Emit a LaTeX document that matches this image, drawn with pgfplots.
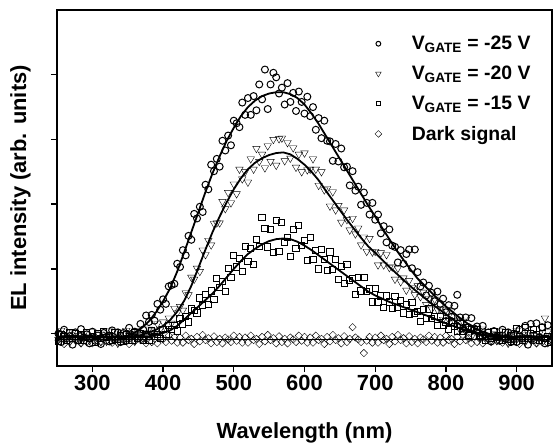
\documentclass[border=0pt]{standalone}
\usepackage{pgfplots}
\pgfplotsset{compat=1.18}
\usepackage{fontspec}
\setmainfont{Liberation Sans}

\newcommand{\bigfont}{\fontsize{22}{26}\selectfont\bfseries}
\newcommand{\legfont}{\fontsize{19.5}{23}\selectfont\bfseries}

\begin{document}
\begin{tikzpicture}
\useasboundingbox (-57bp,-78bp) rectangle (496bp,366bp);
\begin{axis}[
  at={(0,0)}, anchor=south west,
  scale only axis, width=495bp, height=356bp,
  xmin=250, xmax=950, ymin=-0.5, ymax=5,
  xtick={300,400,500,600,700,800,900},
  ytick={0,1,2,3,4}, yticklabels={},
  tick align=outside, xtick pos=bottom, ytick pos=left,
  major tick length=6bp,
  axis line style={line width=1.6bp},
  every tick/.style={black, line width=1.4bp},
  /pgf/number format/assume math mode=true,
  xticklabel style={font=\bigfont, inner sep=0pt, anchor=north, yshift=-3bp},
  xlabel={Wavelength (nm)},
  ylabel={EL intensity (arb. units)},
  xlabel style={font=\bigfont, inner sep=0pt, at={(axis description cs:0.5,-0.1587)}, anchor=north},
  ylabel style={font=\bigfont, inner sep=0pt, at={(axis description cs:-0.0949,0.5)}, anchor=north},
  legend style={draw=none, fill=none, inner sep=0pt, font=\legfont,
    at={(axis description cs:0.642,0.927)}, anchor=north west,
    column sep=30bp, row sep=15bp, nodes={inner sep=0pt}},
  legend cell align=left,
  legend image code/.code={\draw[#1] plot coordinates {(0bp,0bp)};},
  scat/.style={only marks, black, mark options={line width=1bp, black, fill=none}},
  fit/.style={black, line width=1.8bp, forget plot},
]

% V_GATE = -25 V
\addplot[scat, mark=o, mark size=3.5bp, legend image post style={mark size=2.4bp}] coordinates {
(252,0.00)(256,-0.13)(260,0.06)(264,-0.07)(268,-0.04)(272,-0.17)(276,0.02)(280,-0.10)
(284,0.07)(288,-0.06)(292,-0.01)(296,-0.15)(300,0.03)(304,-0.11)(308,-0.03)(312,-0.16)
(316,0.01)(320,-0.05)(324,-0.12)(328,0.05)(332,-0.09)(336,0.02)(340,-0.13)(344,0.01)
(348,-0.11)(352,0.09)(356,-0.02)(360,0.03)(364,-0.07)(368,0.15)(372,0.06)(376,0.28)
(380,0.18)(384,0.29)(388,0.20)(392,0.46)(396,0.37)(400,0.53)(404,0.46)(408,0.73)
(412,0.75)(416,0.77)(420,1.08)(424,1.03)(428,1.29)(432,1.21)(436,1.51)(440,1.45)
(444,1.85)(448,1.78)(452,1.96)(456,1.88)(460,2.30)(464,2.23)(468,2.61)(472,2.51)
(476,2.70)(480,2.58)(484,2.98)(488,2.83)(492,3.06)(496,2.91)(500,3.29)(504,3.25)
(508,3.19)(512,3.57)(516,3.38)(520,3.64)(524,3.38)(528,3.67)(532,3.45)(536,3.85)
(540,3.62)(544,4.08)(548,3.47)(552,3.85)(556,4.03)(560,3.96)(564,3.71)(568,3.80)
(572,3.54)(576,3.87)(580,3.58)(584,3.72)(588,3.44)(592,3.74)(596,3.58)(600,3.40)
(604,3.66)(608,3.36)(612,3.50)(616,3.15)(620,3.33)(624,3.02)(628,3.29)(632,2.98)
(636,2.97)(640,2.67)(644,2.93)(648,2.66)(652,2.86)(656,2.57)(660,2.58)(664,2.29)
(668,2.51)(672,2.21)(676,2.27)(680,1.99)(684,2.18)(688,2.02)(692,1.84)(696,2.02)
(700,1.76)(704,1.84)(708,1.55)(712,1.66)(716,1.41)(720,1.61)(724,1.36)(728,1.34)
(732,1.10)(736,1.29)(740,1.08)(744,1.23)(748,1.30)(752,1.01)(756,1.30)(760,0.95)
(764,0.73)(768,0.79)(772,0.59)(776,0.74)(780,0.63)(784,0.50)(788,0.65)(792,0.46)
(796,0.54)(800,0.33)(804,0.44)(808,0.26)(812,0.43)(816,0.60)(820,0.25)(824,0.08)
(828,0.25)(832,0.10)(836,0.24)(840,0.08)(844,0.11)(848,-0.05)(852,0.12)(856,-0.04)
(860,0.02)(864,-0.12)(868,0.04)(872,-0.03)(876,-0.11)(880,0.06)(884,-0.08)(888,0.02)
(892,-0.13)(896,0.00)(900,-0.13)(904,0.06)(908,-0.07)(912,0.12)(916,-0.17)(920,0.15)
(924,-0.10)(928,0.16)(932,-0.06)(936,0.10)(940,-0.15)(944,0.13)(948,-0.11)
};
\addlegendentry{V\textsubscript{GATE} = -25 V}

% V_GATE = -20 V
\addplot[scat, mark=triangle, mark size=4.3bp, mark options={rotate=180}, legend image post style={mark size=3.2bp}] coordinates {
(252,-0.09)(256,0.05)(260,-0.06)(264,-0.02)(268,-0.13)(272,0.02)(276,-0.10)(280,-0.03)
(284,-0.14)(288,0.00)(292,-0.05)(296,-0.11)(300,0.03)(304,-0.08)(308,0.01)(312,-0.12)
(316,-0.01)(320,-0.12)(324,0.04)(328,-0.07)(332,-0.04)(336,-0.15)(340,0.01)(344,-0.09)
(348,0.05)(352,-0.06)(356,-0.01)(360,-0.12)(364,0.04)(368,-0.07)(372,0.01)(376,-0.09)
(380,0.07)(384,0.04)(388,-0.01)(392,0.15)(396,0.07)(400,0.18)(404,0.08)(408,0.24)
(412,0.16)(416,0.39)(420,0.32)(424,0.42)(428,0.36)(432,0.63)(436,0.60)(440,0.87)
(444,0.84)(448,1.01)(452,0.96)(456,1.29)(460,1.22)(464,1.44)(468,1.37)(472,1.70)
(476,1.71)(480,1.71)(484,2.04)(488,1.93)(492,2.18)(496,2.02)(500,2.31)(504,2.16)
(508,2.54)(512,2.39)(516,2.50)(520,2.34)(524,2.70)(528,2.54)(532,2.86)(536,2.66)
(540,2.77)(544,2.56)(548,2.90)(552,2.66)(556,3.00)(560,2.60)(564,3.01)(568,3.02)
(572,2.67)(576,2.95)(580,2.71)(584,2.87)(588,2.57)(592,2.77)(596,2.50)(600,2.79)
(604,2.53)(608,2.54)(612,2.70)(616,2.54)(620,2.29)(624,2.50)(628,2.22)(632,2.24)
(636,1.97)(640,2.19)(644,1.91)(648,1.98)(652,1.72)(656,1.91)(660,1.76)(664,1.60)
(668,1.78)(672,1.54)(676,1.63)(680,1.37)(684,1.49)(688,1.27)(692,1.47)(696,1.26)
(700,1.27)(704,1.06)(708,1.25)(712,1.06)(716,1.22)(720,1.02)(724,1.03)(728,0.84)
(732,1.01)(736,0.80)(740,0.86)(744,0.67)(748,0.82)(752,0.71)(756,0.60)(760,0.74)
(764,0.57)(768,0.64)(772,0.45)(776,0.54)(780,0.38)(784,0.53)(788,0.37)(792,0.38)
(796,0.22)(800,0.37)(804,0.22)(808,0.35)(812,0.19)(816,0.20)(820,0.06)(824,0.19)
(828,0.03)(832,0.08)(836,-0.05)(840,0.07)(844,0.01)(848,-0.06)(852,0.07)(856,-0.05)
(860,0.03)(864,-0.10)(868,0.00)(872,-0.11)(876,0.04)(880,-0.07)(884,-0.04)(888,-0.15)
(892,0.01)(896,-0.09)(900,0.05)(904,-0.06)(908,-0.02)(912,-0.13)(916,0.02)(920,-0.10)
(924,-0.03)(928,-0.14)(932,0.00)(936,-0.05)(940,0.24)(944,0.03)(948,-0.08)
};
\addlegendentry{V\textsubscript{GATE} = -20 V}

% V_GATE = -15 V
\addplot[scat, mark=square, mark size=3.1bp, legend image post style={mark size=2.2bp}] coordinates {
(252,-0.12)(256,-0.01)(260,-0.05)(264,-0.10)(268,0.01)(272,-0.07)(276,0.00)(280,-0.11)
(284,-0.02)(288,-0.11)(292,0.02)(296,-0.07)(300,-0.04)(304,-0.13)(308,0.00)(312,-0.08)
(316,0.03)(320,-0.06)(324,-0.03)(328,-0.11)(332,0.01)(336,-0.09)(340,-0.03)(344,-0.12)
(348,-0.01)(352,-0.05)(356,-0.10)(360,0.01)(364,-0.07)(368,0.00)(372,-0.10)(376,-0.01)
(380,-0.10)(384,0.04)(388,-0.04)(392,-0.01)(396,-0.08)(400,0.06)(404,-0.01)(408,0.13)
(412,0.06)(416,0.12)(420,0.04)(424,0.23)(428,0.15)(432,0.26)(436,0.18)(440,0.38)
(444,0.36)(448,0.32)(452,0.55)(456,0.44)(460,0.61)(464,0.45)(468,0.66)(472,0.53)
(476,0.85)(480,0.71)(484,0.81)(488,0.65)(492,1.01)(496,0.87)(500,1.21)(504,1.03)
(508,1.16)(512,0.96)(516,1.35)(520,1.11)(524,1.31)(528,1.07)(532,1.45)(536,1.35)
(540,1.80)(544,1.63)(548,1.34)(552,1.61)(556,1.25)(560,1.75)(564,1.27)(568,1.72)
(572,1.41)(576,1.49)(580,1.19)(584,1.61)(588,1.32)(592,1.67)(596,1.36)(600,1.44)
(604,1.13)(608,1.48)(612,1.15)(616,1.29)(620,1.00)(624,1.30)(628,1.15)(632,0.98)
(636,1.26)(640,0.99)(644,1.15)(648,0.84)(652,1.04)(656,0.78)(660,1.07)(664,0.82)
(668,0.85)(672,0.61)(676,0.87)(680,0.66)(684,0.87)(688,0.65)(692,0.69)(696,0.49)
(700,0.70)(704,0.49)(708,0.58)(712,0.40)(716,0.58)(720,0.49)(724,0.39)(728,0.57)
(732,0.40)(736,0.51)(740,0.32)(744,0.45)(748,0.29)(752,0.48)(756,0.32)(760,0.34)
(764,0.19)(768,0.37)(772,0.24)(776,0.38)(780,0.24)(784,0.26)(788,0.12)(792,0.26)
(796,0.13)(800,0.18)(804,0.06)(808,0.18)(812,0.11)(816,0.04)(820,0.15)(824,0.04)
(828,0.10)(832,-0.03)(836,0.06)(840,-0.05)(844,0.07)(848,-0.03)(852,-0.02)(856,-0.11)
(860,0.01)(864,-0.08)(868,0.03)(872,-0.06)(876,-0.03)(880,-0.11)(884,0.01)(888,-0.09)
(892,-0.03)(896,-0.12)(900,0.08)(904,-0.05)(908,-0.10)(912,0.10)(916,-0.07)(920,0.00)
(924,0.06)(928,-0.02)(932,-0.11)(936,0.10)(940,-0.07)(944,-0.04)(948,-0.13)
};
\addlegendentry{V\textsubscript{GATE} = -15 V}

% dark signal
\addplot[scat, mark=square, mark size=2.6bp, mark options={rotate=45}, legend image post style={mark size=2.4bp}] coordinates {
(252,-0.10)(256,-0.08)(260,-0.16)(264,-0.05)(268,-0.12)(272,-0.02)(276,-0.10)(280,-0.07)
(284,-0.15)(288,-0.04)(292,-0.13)(296,-0.08)(300,-0.15)(304,-0.06)(308,-0.09)(312,-0.13)
(316,-0.03)(320,-0.11)(324,-0.05)(328,-0.14)(332,-0.06)(336,-0.14)(340,-0.03)
(344,-0.10)(348,-0.08)(352,-0.16)(356,-0.05)(360,-0.12)(364,-0.02)(368,-0.10)(372,-0.07)
(376,-0.15)(380,-0.04)(384,-0.13)(388,-0.08)(392,-0.15)(396,-0.06)(400,-0.09)(404,-0.13)
(408,-0.03)(412,-0.11)(416,-0.05)(420,-0.14)(424,-0.06)(428,-0.14)(432,-0.03)
(436,-0.10)(440,-0.08)(444,-0.16)(448,-0.05)(452,-0.12)(456,-0.02)(460,-0.10)(464,-0.07)
(468,-0.15)(472,-0.04)(476,-0.13)(480,-0.08)(484,-0.15)(488,-0.06)(492,-0.09)(496,-0.13)
(500,-0.03)(504,-0.11)(508,-0.05)(512,-0.14)(516,-0.06)(520,-0.14)(524,-0.03)
(528,-0.10)(532,-0.08)(536,-0.16)(540,-0.05)(544,-0.12)(548,-0.02)(552,-0.10)(556,-0.07)
(560,-0.15)(564,-0.04)(568,-0.13)(572,-0.08)(576,-0.15)(580,-0.06)(584,-0.09)(588,-0.13)
(592,-0.03)(596,-0.11)(600,-0.05)(604,-0.14)(608,-0.06)(612,-0.14)(616,-0.03)
(620,-0.10)(624,-0.08)(628,-0.16)(632,-0.05)(636,-0.12)(640,-0.02)(644,-0.10)(648,-0.07)
(652,-0.15)(656,-0.04)(660,-0.13)(664,-0.08)(668,0.10)(672,-0.06)(676,-0.09)(680,-0.13)
(684,-0.30)(688,-0.11)(692,-0.05)(696,-0.14)(700,-0.06)(704,-0.14)(708,-0.03)
(712,-0.10)(716,-0.08)(720,-0.16)(724,-0.05)(728,-0.12)(732,-0.02)(736,-0.10)(740,-0.07)
(744,-0.15)(748,-0.04)(752,-0.13)(756,-0.08)(760,-0.15)(764,-0.06)(768,-0.09)(772,-0.13)
(776,-0.03)(780,-0.11)(784,-0.05)(788,-0.14)(792,-0.06)(796,-0.14)(800,-0.03)
(804,-0.10)(808,-0.08)(812,-0.16)(816,-0.05)(820,-0.12)(824,-0.02)(828,-0.10)(832,-0.07)
(836,-0.15)(840,-0.04)(844,-0.13)(848,-0.08)(852,-0.15)(856,-0.06)(860,-0.09)(864,-0.13)
(868,-0.03)(872,-0.11)(876,-0.05)(880,-0.14)(884,-0.06)(888,-0.14)(892,-0.03)
(896,-0.10)(900,-0.08)(904,-0.16)(908,-0.05)(912,-0.12)(916,-0.02)(920,-0.10)(924,-0.07)
(928,-0.15)(932,-0.04)(936,-0.13)(940,-0.08)(944,-0.15)(948,-0.06)
};
\addlegendentry{Dark signal}

% fitted curves
\addplot[fit] coordinates {
(250,-0.05)(300,-0.05)(340,-0.05)(350,-0.03)(360,0.02)(370,0.09)(380,0.19)(390,0.33)
(400,0.50)(410,0.70)(420,0.96)(430,1.26)(440,1.57)(450,1.88)(460,2.19)(470,2.48)
(480,2.74)(490,2.98)(500,3.18)(510,3.36)(520,3.50)(530,3.60)(540,3.67)(550,3.71)
(560,3.73)(570,3.73)(580,3.70)(590,3.64)(600,3.54)(610,3.40)(620,3.24)(630,3.06)
(640,2.88)(650,2.70)(660,2.52)(670,2.34)(680,2.16)(690,1.98)(700,1.81)(710,1.63)
(720,1.46)(730,1.29)(740,1.14)(750,0.99)(760,0.85)(770,0.74)(780,0.63)(790,0.52)
(800,0.42)(810,0.33)(820,0.24)(830,0.16)(840,0.09)(850,0.04)(860,0.00)(870,-0.03)
(880,-0.04)(890,-0.05)(950,-0.05)
};
\addplot[fit] coordinates {
(250,-0.05)(300,-0.05)(350,-0.05)(360,-0.04)(370,-0.02)(380,0.02)(390,0.06)(400,0.12)
(410,0.21)(420,0.34)(430,0.51)(440,0.74)(450,1.02)(460,1.30)(470,1.57)(480,1.81)
(490,2.03)(500,2.23)(510,2.40)(520,2.54)(530,2.64)(540,2.71)(550,2.76)(560,2.79)
(570,2.80)(580,2.77)(590,2.70)(600,2.61)(610,2.50)(620,2.37)(630,2.21)(640,2.06)
(650,1.91)(660,1.76)(670,1.62)(680,1.48)(690,1.35)(700,1.25)(710,1.14)(720,1.03)
(730,0.93)(740,0.83)(750,0.73)(760,0.64)(770,0.55)(780,0.46)(790,0.38)(800,0.30)
(810,0.22)(820,0.14)(830,0.07)(840,0.02)(850,-0.01)(860,-0.03)(870,-0.04)(880,-0.05)
(950,-0.05)
};
\addplot[fit] coordinates {
(250,-0.05)(300,-0.05)(360,-0.05)(370,-0.05)(380,-0.04)(390,-0.02)(400,0.01)(410,0.05)
(420,0.12)(430,0.22)(440,0.32)(450,0.42)(460,0.52)(470,0.62)(480,0.74)(490,0.87)
(500,1.00)(510,1.12)(520,1.23)(530,1.31)(540,1.38)(550,1.43)(560,1.46)(570,1.47)
(580,1.46)(590,1.42)(600,1.36)(610,1.29)(620,1.21)(630,1.13)(640,1.05)(650,0.97)
(660,0.89)(670,0.81)(680,0.73)(690,0.65)(700,0.59)(710,0.54)(720,0.49)(730,0.45)
(740,0.41)(750,0.37)(760,0.33)(770,0.29)(780,0.25)(790,0.20)(800,0.16)(810,0.12)
(820,0.08)(830,0.04)(840,0.01)(850,-0.02)(860,-0.04)(870,-0.05)(950,-0.05)
};
\addplot[fit] coordinates {(250,-0.09)(950,-0.09)};

\end{axis}
\end{tikzpicture}
\end{document}
